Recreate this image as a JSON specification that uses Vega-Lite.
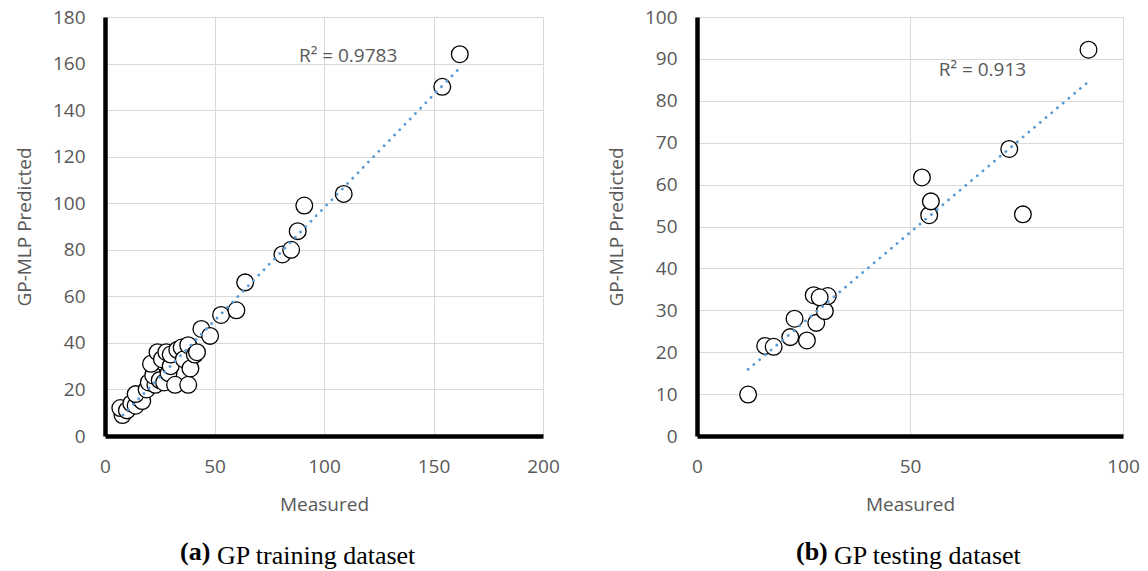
{
  "$schema": "https://vega.github.io/schema/vega-lite/v6.json",
  "background": "white",
  "padding": {"left": 15, "top": 8, "right": 5, "bottom": 5},
  "config": {
    "view": {"stroke": null},
    "font": "Open Sans",
    "axis": {
      "labelFont": "Open Sans", "labelFontSize": 19, "labelColor": "#595959", "labelFlush": false,
      "titleFont": "Open Sans", "titleFontSize": 19, "titleFontWeight": "normal", "titleColor": "#595959",
      "domainColor": "black", "domainWidth": 4.5, "ticks": false, "tickSize": 0,
      "gridColor": "#d9d9d9", "gridWidth": 1
    },
    "axisX": {"labelPadding": 21, "titlePadding": 19},
    "axisY": {"labelPadding": 20, "titlePadding": 18},
    "title": {"font": "Liberation Serif", "fontSize": 26, "color": "black", "fontWeight": "normal", "orient": "bottom", "anchor": "start", "frame": "group"}
  },
  "datasets": {
    "train": [
      {"Measured": 8, "Predicted": 9}, {"Measured": 7, "Predicted": 12}, {"Measured": 10, "Predicted": 11},
      {"Measured": 12, "Predicted": 14}, {"Measured": 14, "Predicted": 13}, {"Measured": 16, "Predicted": 16},
      {"Measured": 17, "Predicted": 15}, {"Measured": 14, "Predicted": 18}, {"Measured": 19, "Predicted": 20},
      {"Measured": 20, "Predicted": 23}, {"Measured": 23, "Predicted": 22}, {"Measured": 22, "Predicted": 26},
      {"Measured": 21, "Predicted": 31}, {"Measured": 24, "Predicted": 36}, {"Measured": 26, "Predicted": 33},
      {"Measured": 25, "Predicted": 24}, {"Measured": 28, "Predicted": 36}, {"Measured": 27, "Predicted": 23},
      {"Measured": 29, "Predicted": 27}, {"Measured": 30, "Predicted": 30}, {"Measured": 32, "Predicted": 22},
      {"Measured": 30, "Predicted": 35}, {"Measured": 33, "Predicted": 37}, {"Measured": 35, "Predicted": 38},
      {"Measured": 36, "Predicted": 33}, {"Measured": 38, "Predicted": 22}, {"Measured": 38, "Predicted": 39},
      {"Measured": 39, "Predicted": 29}, {"Measured": 41, "Predicted": 35}, {"Measured": 42, "Predicted": 36},
      {"Measured": 44, "Predicted": 46}, {"Measured": 48, "Predicted": 43}, {"Measured": 53, "Predicted": 52},
      {"Measured": 60, "Predicted": 54}, {"Measured": 64, "Predicted": 66}, {"Measured": 81, "Predicted": 78},
      {"Measured": 85, "Predicted": 80}, {"Measured": 88, "Predicted": 88}, {"Measured": 91, "Predicted": 99},
      {"Measured": 109, "Predicted": 104}, {"Measured": 154, "Predicted": 150}, {"Measured": 162, "Predicted": 164}
    ],
    "trainTrend": [{"Measured": 8.2, "Predicted": 9.0}, {"Measured": 161.6, "Predicted": 157.8}],
    "trainR2": [{"Measured": 111, "Predicted": 163.4, "label": "R² = 0.9783"}],
    "test": [
      {"Measured": 12.0, "Predicted": 9.9}, {"Measured": 16.0, "Predicted": 21.5}, {"Measured": 18.0, "Predicted": 21.3},
      {"Measured": 21.9, "Predicted": 23.6}, {"Measured": 22.9, "Predicted": 28.0}, {"Measured": 25.8, "Predicted": 22.8},
      {"Measured": 28.0, "Predicted": 27.0}, {"Measured": 30.0, "Predicted": 29.8}, {"Measured": 27.4, "Predicted": 33.6},
      {"Measured": 30.7, "Predicted": 33.4}, {"Measured": 28.8, "Predicted": 33.1}, {"Measured": 52.8, "Predicted": 61.7},
      {"Measured": 54.5, "Predicted": 52.7}, {"Measured": 54.9, "Predicted": 56.0}, {"Measured": 73.3, "Predicted": 68.5},
      {"Measured": 76.5, "Predicted": 52.9}, {"Measured": 91.9, "Predicted": 92.2}
    ],
    "testTrend": [{"Measured": 12.0, "Predicted": 15.9}, {"Measured": 91.7, "Predicted": 84.4}],
    "testR2": [{"Measured": 67, "Predicted": 87.3, "label": "R² = 0.913"}]
  },
  "spacing": 47,
  "hconcat": [
    {
      "title": {"text": "(a)", "fontWeight": "bold", "dx": 75, "dy": -30, "offset": 0},
      "vconcat": [
        {
          "width": 438, "height": 419,
          "title": {"text": "GP training dataset", "dx": 112, "offset": 29},
          "layer": [
            {
              "data": {"name": "train"},
              "mark": {"type": "point", "shape": "circle", "size": 280, "filled": true, "fill": "white", "fillOpacity": 1, "stroke": "black", "strokeWidth": 1.3, "opacity": 1},
              "encoding": {
                "x": {"field": "Measured", "type": "quantitative", "scale": {"domain": [0, 200], "nice": false}, "axis": {"values": [0, 50, 100, 150, 200], "title": "Measured"}},
                "y": {"field": "Predicted", "type": "quantitative", "scale": {"domain": [0, 180], "nice": false}, "axis": {"values": [0, 20, 40, 60, 80, 100, 120, 140, 160, 180], "title": "GP-MLP Predicted"}}
              }
            },
            {
              "data": {"name": "trainTrend"},
              "mark": {"type": "line", "color": "#5B9BD5", "strokeWidth": 2.8, "strokeDash": [0.1, 7.4], "strokeCap": "round"},
              "encoding": {
                "x": {"field": "Measured", "type": "quantitative"},
                "y": {"field": "Predicted", "type": "quantitative"}
              }
            },
            {
              "data": {"name": "trainR2"},
              "mark": {"type": "text", "font": "Open Sans", "fontSize": 19, "color": "#595959", "align": "center", "baseline": "middle"},
              "encoding": {
                "x": {"field": "Measured", "type": "quantitative"},
                "y": {"field": "Predicted", "type": "quantitative"},
                "text": {"field": "label"}
              }
            }
          ]
        }
      ]
    },
    {
      "title": {"text": "(b)", "fontWeight": "bold", "dx": 99, "dy": -30, "offset": 0},
      "vconcat": [
        {
          "width": 426, "height": 419,
          "title": {"text": "GP testing dataset", "dx": 137, "offset": 29},
          "layer": [
            {
              "data": {"name": "test"},
              "mark": {"type": "point", "shape": "circle", "size": 280, "filled": true, "fill": "white", "fillOpacity": 1, "stroke": "black", "strokeWidth": 1.3, "opacity": 1},
              "encoding": {
                "x": {"field": "Measured", "type": "quantitative", "scale": {"domain": [0, 100], "nice": false}, "axis": {"values": [0, 50, 100], "title": "Measured"}},
                "y": {"field": "Predicted", "type": "quantitative", "scale": {"domain": [0, 100], "nice": false}, "axis": {"values": [0, 10, 20, 30, 40, 50, 60, 70, 80, 90, 100], "title": "GP-MLP Predicted"}}
              }
            },
            {
              "data": {"name": "testTrend"},
              "mark": {"type": "line", "color": "#5B9BD5", "strokeWidth": 2.8, "strokeDash": [0.1, 7.4], "strokeCap": "round"},
              "encoding": {
                "x": {"field": "Measured", "type": "quantitative"},
                "y": {"field": "Predicted", "type": "quantitative"}
              }
            },
            {
              "data": {"name": "testR2"},
              "mark": {"type": "text", "font": "Open Sans", "fontSize": 19, "color": "#595959", "align": "center", "baseline": "middle"},
              "encoding": {
                "x": {"field": "Measured", "type": "quantitative"},
                "y": {"field": "Predicted", "type": "quantitative"},
                "text": {"field": "label"}
              }
            }
          ]
        }
      ]
    }
  ]
}
